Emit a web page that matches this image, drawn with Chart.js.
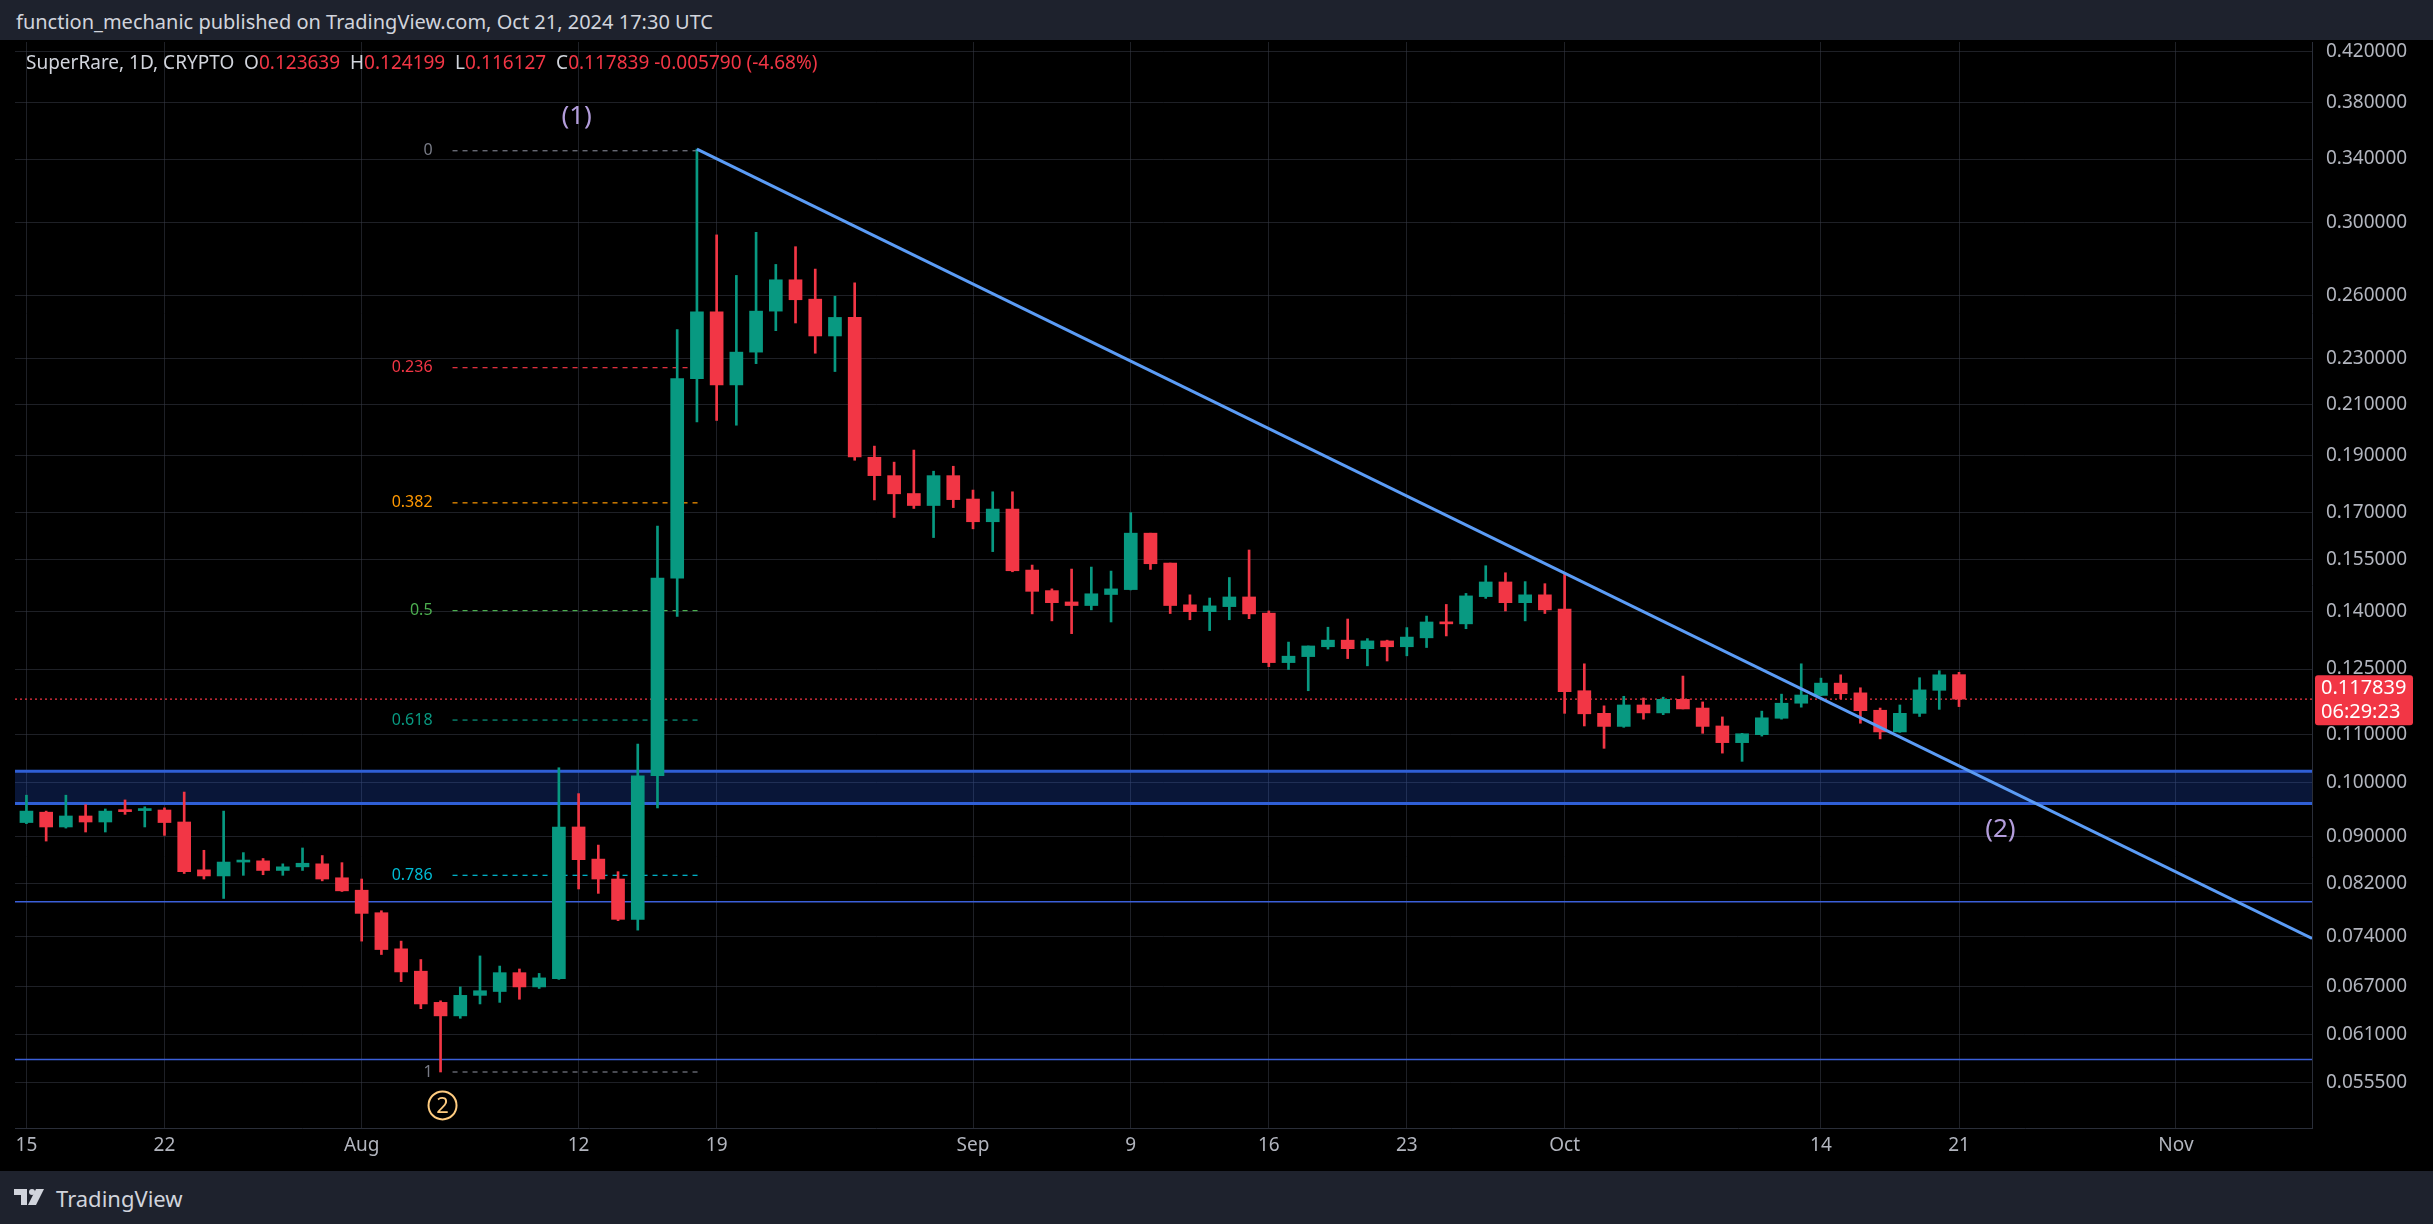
<!DOCTYPE html>
<html><head><meta charset="utf-8">
<script src="https://cdn.jsdelivr.net/npm/chart.js@4.4.1/dist/chart.umd.min.js"></script>
<style>
html,body{margin:0;padding:0;background:#1e222d;width:2433px;height:1224px;overflow:hidden;font-family:"Noto Sans",sans-serif}
#hdr{position:absolute;left:16px;top:8px;color:#d1d4dc;font-size:20px}
#wrap{position:absolute;left:0;top:40px;width:2433px;height:1131px;background:#000}
#ftr{position:absolute;left:14px;top:1183px;color:#d1d4dc;font-size:22px;display:flex;align-items:center;gap:8px}
</style></head><body>
<div id="hdr">function_mechanic published on TradingView.com, Oct 21, 2024 17:30 UTC</div>
<div id="wrap"><canvas id="c" width="2433" height="1131"></canvas></div>
<div id="ftr"><svg width="34" height="22" viewBox="0 0 34 22"><path d="M0 2h13v16h-6v-10h-7z" fill="#d1d4dc"/><circle cx="18" cy="5" r="3" fill="#d1d4dc"/><path d="M22 2h8l-8 16h-8z" fill="#d1d4dc"/></svg><span>TradingView</span></div>
<script>
// Daily candles from Jul 15, 2024 (index 0) to Oct 21, 2024 (index 98)
const openP  = [0.0925,0.0944,0.0917,0.0937,0.0926,0.0948,0.0947,0.0948,0.0926,0.0843,0.0833,0.0856,0.0858,0.0842,0.0848,0.0853,0.0830,0.0810,0.0775,0.0722,0.0691,0.0650,0.0633,0.0659,0.0664,0.0689,0.0670,0.0681,0.0917,0.0861,0.0828,0.0765,0.1014,0.1494,0.2210,0.2520,0.2183,0.2328,0.2523,0.2683,0.2583,0.2403,0.2492,0.1894,0.1827,0.1764,0.1723,0.1827,0.1745,0.1669,0.1711,0.1518,0.1458,0.1426,0.1416,0.1447,0.1461,0.1632,0.1539,0.1418,0.1399,0.1413,0.1440,0.1395,0.1266,0.1281,0.1306,0.1323,0.1301,0.1321,0.1306,0.1329,0.1371,0.1366,0.1441,0.1483,0.1424,0.1446,0.1406,0.1198,0.1146,0.1117,0.1165,0.1147,0.1178,0.1158,0.1118,0.1082,0.1099,0.1135,0.1169,0.1187,0.1216,0.1193,0.1153,0.1105,0.1146,0.1199,0.123639];
const highP  = [0.0976,0.0946,0.0976,0.0958,0.0950,0.0967,0.0954,0.0952,0.0982,0.0876,0.0946,0.0872,0.0862,0.0853,0.0880,0.0867,0.0855,0.0828,0.0778,0.0733,0.0707,0.0652,0.0670,0.0712,0.0698,0.0694,0.0688,0.1030,0.0979,0.0885,0.0840,0.1079,0.1655,0.2433,0.3467,0.2930,0.2706,0.2945,0.2765,0.2863,0.2740,0.2598,0.2667,0.1936,0.1876,0.1921,0.1843,0.1861,0.1776,0.1770,0.1770,0.1533,0.1463,0.1521,0.1527,0.1515,0.1699,0.1632,0.1539,0.1446,0.1437,0.1496,0.1579,0.1401,0.1318,0.1308,0.1357,0.1379,0.1327,0.1323,0.1356,0.1387,0.1419,0.1450,0.1531,0.1510,0.1484,0.1478,0.1510,0.1263,0.1163,0.1185,0.1181,0.1183,0.1233,0.1172,0.1138,0.1102,0.1151,0.1190,0.1263,0.1228,0.1236,0.1205,0.1158,0.1165,0.1229,0.1246,0.124199];
const lowP   = [0.0923,0.0892,0.0915,0.0908,0.0908,0.0940,0.0917,0.0902,0.0837,0.0828,0.0797,0.0834,0.0835,0.0834,0.0842,0.0825,0.0808,0.0733,0.0714,0.0677,0.0642,0.0567,0.0630,0.0648,0.0650,0.0654,0.0668,0.0680,0.0812,0.0805,0.0763,0.0749,0.0952,0.1386,0.2030,0.2036,0.2017,0.2276,0.2428,0.2465,0.2323,0.2241,0.1883,0.1742,0.1683,0.1713,0.1618,0.1716,0.1646,0.1574,0.1513,0.1393,0.1374,0.1340,0.1404,0.1371,0.1460,0.1520,0.1394,0.1377,0.1348,0.1377,0.1380,0.1256,0.1249,0.1198,0.1300,0.1276,0.1258,0.1270,0.1283,0.1304,0.1334,0.1353,0.1436,0.1401,0.1374,0.1394,0.1146,0.1118,0.1070,0.1115,0.1133,0.1143,0.1156,0.1102,0.1060,0.1043,0.1096,0.1133,0.1160,0.1186,0.1179,0.1124,0.1090,0.1104,0.1139,0.1155,0.116127];
const closeP = [0.0946,0.0917,0.0937,0.0926,0.0946,0.0945,0.0950,0.0925,0.0840,0.0833,0.0856,0.0858,0.0842,0.0848,0.0854,0.0828,0.0809,0.0774,0.0721,0.0690,0.0648,0.0633,0.0659,0.0665,0.0689,0.0670,0.0682,0.0917,0.0860,0.0828,0.0765,0.1014,0.1494,0.2210,0.2520,0.2183,0.2328,0.2523,0.2683,0.2580,0.2403,0.2492,0.1895,0.1827,0.1763,0.1723,0.1827,0.1743,0.1669,0.1711,0.1516,0.1456,0.1424,0.1416,0.1449,0.1463,0.1632,0.1537,0.1416,0.1399,0.1415,0.1440,0.1393,0.1266,0.1282,0.1308,0.1323,0.1301,0.1321,0.1306,0.1331,0.1371,0.1366,0.1443,0.1483,0.1424,0.1446,0.1404,0.1196,0.1145,0.1117,0.1165,0.1147,0.1178,0.1156,0.1117,0.1082,0.1101,0.1136,0.1169,0.1188,0.1216,0.1191,0.1152,0.1105,0.1146,0.1200,0.1236,0.117839];

const xTickIdx    = [0,7,17,28,35,48,56,63,70,78,91,98,109];
const xTickLabels = ['15','22','Aug','12','19','Sep','9','16','23','Oct','14','21','Nov'];
const yTicks = [0.42,0.38,0.34,0.30,0.26,0.23,0.21,0.19,0.17,0.155,0.14,0.125,0.11,0.10,0.09,0.082,0.074,0.067,0.061,0.0555];

const fibLevels = ['0','0.236','0.382','0.5','0.618','0.786','1'];
const fibPrices = [0.3456,0.2258,0.1732,0.1402,0.1131,0.0834,0.0567];
const fibColors = ['#787b86','#f23645','#ff9800','#4caf50','#089981','#00bcd4','#787b86'];
const fibRange = [21.1, 34.1];

const trendX = [34, 115.9];
const trendY = [0.3467, 0.0737];
const zone = [0.0960, 0.1023];
const hLines = [0.0792, 0.0581];
const lastPrice = 0.117839;

const UP='#089981', DN='#f23645';
const cols = closeP.map((c,i)=> c>=openP[i]?UP:DN);
const idx = closeP.map((_,i)=>i);

const overlay = {
  id:'overlay',
  beforeDatasetsDraw(ch){
    const {ctx, chartArea:a, scales:{x,y}} = ch;
    ctx.save();
    const z1=y.getPixelForValue(zone[1]), z0=y.getPixelForValue(zone[0]);
    ctx.fillStyle='rgba(41,98,255,0.22)';
    ctx.fillRect(a.left,z1,a.right-a.left,z0-z1);
    ctx.strokeStyle='#2f5fd6'; ctx.lineWidth=3;
    [z0,z1].forEach(p=>{ctx.beginPath();ctx.moveTo(a.left,p);ctx.lineTo(a.right,p);ctx.stroke();});
    ctx.lineWidth=1.5; ctx.strokeStyle='#3b5fd8';
    hLines.forEach(v=>{const p=y.getPixelForValue(v);ctx.beginPath();ctx.moveTo(a.left,p);ctx.lineTo(a.right,p);ctx.stroke();});
    const fx0=x.getPixelForValue(fibRange[0]), fx1=x.getPixelForValue(fibRange[1]);
    ctx.font='16px "Noto Sans"'; ctx.textAlign='right'; ctx.textBaseline='middle';
    fibLevels.forEach((l,i)=>{
      const p=y.getPixelForValue(fibPrices[i]);
      ctx.setLineDash([5,5]); ctx.strokeStyle=fibColors[i]; ctx.lineWidth=1.2;
      ctx.beginPath(); ctx.moveTo(fx0+10,p); ctx.lineTo(fx1,p); ctx.stroke();
      ctx.setLineDash([]); ctx.fillStyle=fibColors[i]; ctx.fillText(l,fx0-10,p);
    });
    const lp=y.getPixelForValue(lastPrice);
    ctx.setLineDash([2,3]); ctx.strokeStyle=DN; ctx.lineWidth=1.2;
    ctx.beginPath(); ctx.moveTo(a.left,lp); ctx.lineTo(a.right,lp); ctx.stroke();
    ctx.setLineDash([]);
    ctx.restore();
  },
  afterDraw(ch){
    const {ctx, chartArea:a, scales:{x,y}} = ch;
    ctx.save();
    ctx.font='19px "Noto Sans"'; ctx.textBaseline='middle'; ctx.textAlign='left';
    let px=26; const py=24;
    const parts=[['SuperRare, 1D, CRYPTO  ','#d1d4dc'],['O','#d1d4dc'],['0.123639  ',DN],['H','#d1d4dc'],['0.124199  ',DN],['L','#d1d4dc'],['0.116127  ',DN],['C','#d1d4dc'],['0.117839 -0.005790 (-4.68%)',DN]];
    parts.forEach(([t,c])=>{ctx.fillStyle=c;ctx.fillText(t,px,py);px+=ctx.measureText(t).width;});
    ctx.font='26px "Noto Sans"'; ctx.fillStyle='#b39ddb'; ctx.textAlign='center';
    ctx.fillText('(1)', x.getPixelForValue(27.9), y.getPixelForValue(0.3696));
    ctx.fillText('(2)', x.getPixelForValue(100.1), y.getPixelForValue(0.0912));
    const cx=x.getPixelForValue(21.1), cy=y.getPixelForValue(0.0531);
    ctx.strokeStyle='#ffcc80'; ctx.lineWidth=2; ctx.beginPath(); ctx.arc(cx,cy,14,0,Math.PI*2); ctx.stroke();
    ctx.fillStyle='#ffcc80'; ctx.font='22px "Noto Sans"'; ctx.fillText('2',cx,cy+1);
    const lp=y.getPixelForValue(lastPrice);
    ctx.fillStyle=DN; ctx.beginPath(); ctx.roundRect(a.right+3,lp-24,98,50,3); ctx.fill();
    ctx.fillStyle='#fff'; ctx.font='20px "Noto Sans"'; ctx.textAlign='left';
    ctx.fillText('0.117839',a.right+9,lp-11); ctx.fillText('06:29:23',a.right+9,lp+13);
    ctx.restore();
  }
};

new Chart(document.getElementById('c'),{
  data:{datasets:[
    {type:'bar',data:idx.map(i=>({x:i,y:[lowP[i],highP[i]]})),backgroundColor:cols,barThickness:2,grouped:false,order:2},
    {type:'bar',data:idx.map(i=>({x:i,y:[openP[i],closeP[i]]})),backgroundColor:cols,barThickness:13,minBarLength:2,grouped:false,order:1},
    {type:'line',data:trendX.map((v,i)=>({x:v,y:trendY[i]})),borderColor:'#5b9cf6',borderWidth:3,pointRadius:0,order:0}
  ]},
  options:{
    responsive:false,animation:false,devicePixelRatio:1,
    layout:{padding:{left:15,top:2,right:0,bottom:0}},
    plugins:{legend:{display:false},tooltip:{enabled:false}},
    scales:{
      x:{type:'linear',min:-0.58,max:115.9,offset:false,
        afterBuildTicks(s){s.ticks=xTickIdx.map(v=>({value:v}));},
        afterFit(s){s.height=43;s.paddingLeft=0;s.paddingRight=0;},
        ticks:{autoSkip:false,maxRotation:0,color:'#b2b5be',font:{size:19,family:'Noto Sans'},padding:6,
          callback(v){const k=xTickIdx.indexOf(v);return k>=0?xTickLabels[k]:'';}},
        grid:{offset:false,color:'rgba(54,58,69,0.55)',drawTicks:false},border:{color:'#2a2e39'}},
      y:{type:'logarithmic',position:'right',min:0.0508,max:0.4278,
        afterBuildTicks(s){s.ticks=yTicks.map(v=>({value:v}));},
        afterFit(s){s.width=121;s.paddingTop=0;s.paddingBottom=0;},
        ticks:{color:'#b2b5be',font:{size:19,family:'Noto Sans'},padding:14,callback:v=>v.toFixed(6)},
        grid:{color:'rgba(54,58,69,0.55)',drawTicks:false},border:{color:'#2a2e39'}}
    }
  },
  plugins:[overlay]
});
</script></body></html>
